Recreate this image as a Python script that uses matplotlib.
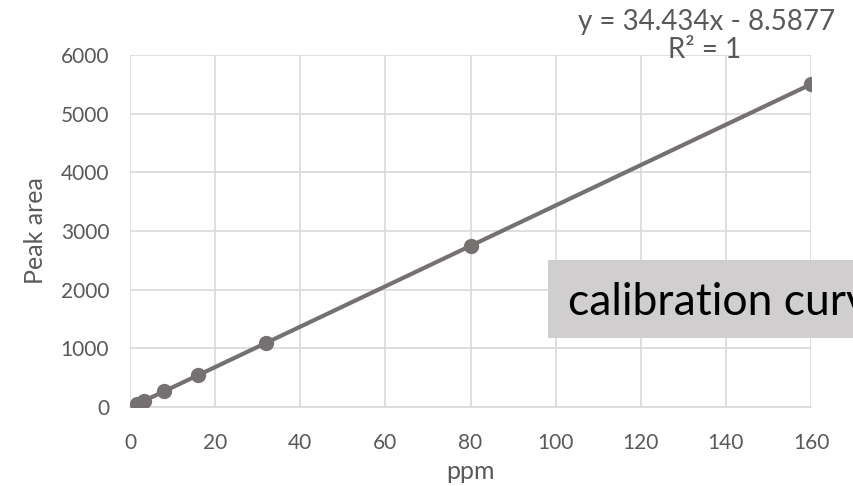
import matplotlib
matplotlib.use("Agg")
import matplotlib.pyplot as plt
import numpy as np

ppm = [1.6, 3.2, 8, 16, 32, 80, 160]
peak_area = [46.5, 101.6, 267, 542, 1093, 2746, 5501]
slope, intercept = 34.434, -8.5877
x_ticks = [0, 20, 40, 60, 80, 100, 120, 140, 160]
y_ticks = [0, 1000, 2000, 3000, 4000, 5000, 6000]

plt.rcParams['font.family'] = ['Lato', 'DejaVu Sans']
W, H = 854, 486
fig = plt.figure(figsize=(W/100, H/100), dpi=100)
ax = fig.add_axes([130/W, 1-407/H, (811-130)/W, (407-55)/H])

col = '#767171'
tcol = '#595959'
xf = np.array([min(ppm), max(ppm)])
ax.plot(xf, slope*xf + intercept, color=col, lw=3, zorder=3, solid_capstyle='round')
ax.plot(ppm, peak_area, 'o', color=col, ms=10, zorder=4)

ax.set_xlim(0, 160)
ax.set_ylim(0, 6000)
ax.set_xticks(x_ticks)
ax.set_yticks(y_ticks)
ax.grid(True, color='#d9d9d9', lw=1.2)
ax.set_axisbelow(True)
for s in ['top', 'right', 'left']:
    ax.spines[s].set_visible(False)
ax.spines['bottom'].set_color('#d9d9d9')
ax.spines['bottom'].set_linewidth(1.2)
ax.tick_params(length=0, labelsize=15, colors=tcol)
ax.tick_params(axis='x', pad=19)
ax.tick_params(axis='y', pad=15)
ax.set_xlabel('ppm', fontsize=18, color=tcol, labelpad=5)
ax.set_ylabel('Peak area', fontsize=18, color=tcol, labelpad=10)

fig.text(707/W, 1-22/H, 'y = 34.434x - 8.5877', fontsize=20, color=tcol, ha='center', va='center')
fig.text(705/W, 1-50/H, 'R² = 1', fontsize=20, color=tcol, ha='center', va='center')

fig.patches.append(plt.Rectangle((548/W, 1-338/H), (W-548)/W, 78/H, transform=fig.transFigure,
                                 facecolor='#d0cece', edgecolor='none', zorder=5))
fig.text(568/W, 1-315/H, 'calibration curve', fontsize=32, color='black', ha='left', va='baseline', zorder=6)

fig.savefig('out.png', dpi=100)
